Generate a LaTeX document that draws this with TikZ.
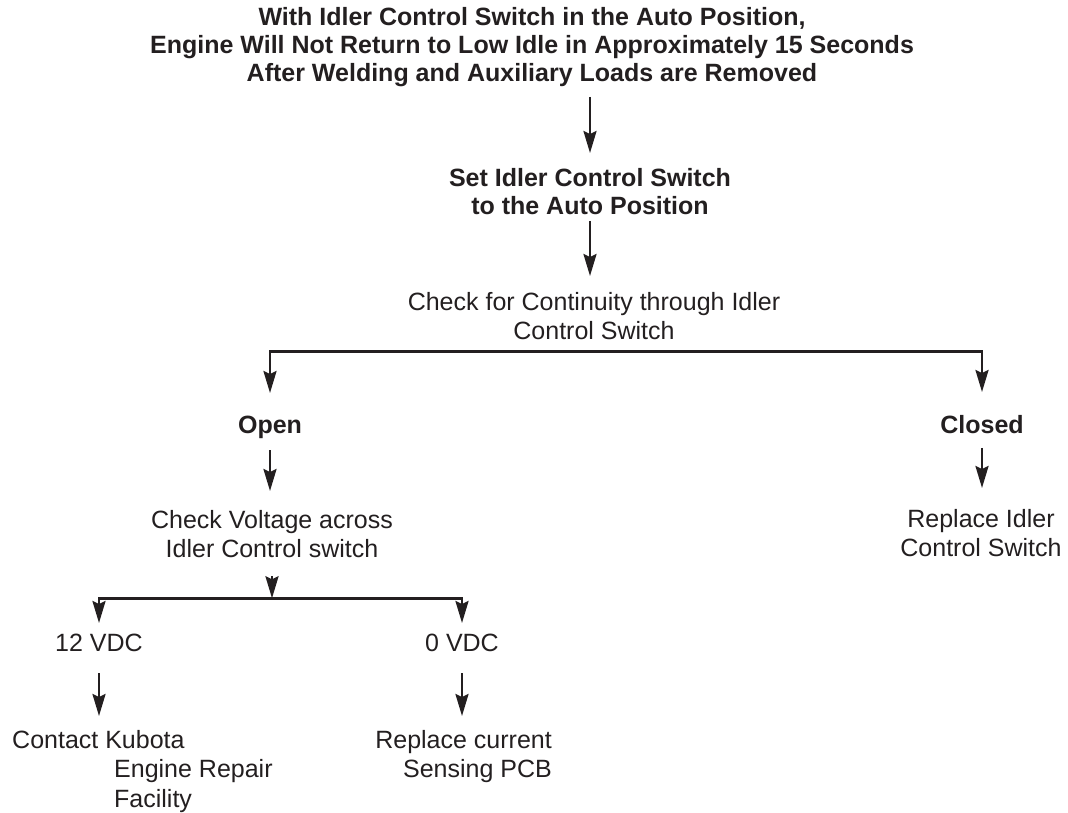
\documentclass[tikz,border=0pt]{standalone}
\usepackage{fontspec}
\setmainfont{Liberation Sans}
\usepackage{tikz}
\usetikzlibrary{arrows.meta,positioning,calc}
\definecolor{idlink}{HTML}{231F20}
\tikzset{
  idl/txt/.style={
    text=idlink, align=center, inner sep=0pt, anchor=north,
    font=\fontsize{25}{29.5}\selectfont
  },
  idl/head/.style={
    idl/txt, font=\fontsize{25}{28}\selectfont\bfseries
  },
  idl/arr/.style={-{Stealth[length=22pt, width=13pt, inset=3pt]}, idlink, line width=2.6pt}
}

\begin{document}
\begin{tikzpicture}[x=1pt, y=-1pt]
  \useasboundingbox (0,0) rectangle (1068,812);
  % question and first steps
  \node[idl/head] (fault) at (532,7)
    {With Idler Control Switch in the Auto Position,\\
     Engine Will Not Return to Low Idle in Approximately 15 Seconds\\
     After Welding and Auxiliary Loads are Removed};
  \node[idl/head] (setauto) at (590,168) {Set Idler Control Switch\\to the Auto Position};
  \node[idl/txt] (contin) at (594,292) {Check for Continuity through Idler\\Control Switch};
  % continuity branches
  \node[idl/head] (open) at (270,416) {Open};
  \node[idl/head] (closed) at (982,415) {Closed};
  \node[idl/txt] (voltage) at (272,510) {Check Voltage across\\Idler Control switch};
  \node[idl/txt] (replace) at (981,509) {Replace Idler\\Control Switch};
  % voltage branches
  \node[idl/txt] (v12) at (99,634) {12 VDC};
  \node[idl/txt] (v0) at (462,634) {0 VDC};
  \node[idl/txt, anchor=north west, align=left] (kubota) at (12,730)
    {Contact Kubota\\\hspace*{102pt}Engine Repair\\\hspace*{102pt}Facility};
  \node[idl/txt, anchor=north east, align=right] (pcb) at (552,730)
    {Replace current\\Sensing PCB};

  \coordinate (split) at ($(contin.south)+(0,11)$);
  \coordinate (split2) at ($(voltage.south)+(0,40)$);

  \draw[idl/arr, shorten <=10pt, shorten >=15pt] (setauto.north |- fault.south) -- (setauto.north);
  \draw[idl/arr, shorten <=6pt, shorten >=16pt] (setauto.south) -- (setauto.south |- contin.north);
  \draw[idl/arr, shorten >=23pt] (split) -| (open.north);
  \draw[idl/arr, shorten >=23pt] (split) -| (closed.north);
  \draw[idl/arr, shorten <=11pt, shorten >=19pt] (open.south) -- (open.south |- voltage.north);
  \draw[idl/arr, shorten <=14pt, shorten >=21pt] (closed.south) -- (closed.south |- replace.north);
  \draw[idl/arr, shorten <=18pt] (voltage.south) -- (split2);
  \draw[idl/arr, shorten >=11pt] (split2) -| (v12.north);
  \draw[idl/arr, shorten >=11pt] (split2) -| (v0.north);
  \draw[idl/arr, shorten <=21pt, shorten >=14pt] (v12.south) -- (v12.south |- kubota.north);
  \draw[idl/arr, shorten <=21pt, shorten >=14pt] (v0.south) -- (v0.south |- pcb.north);
\end{tikzpicture}
\end{document}
